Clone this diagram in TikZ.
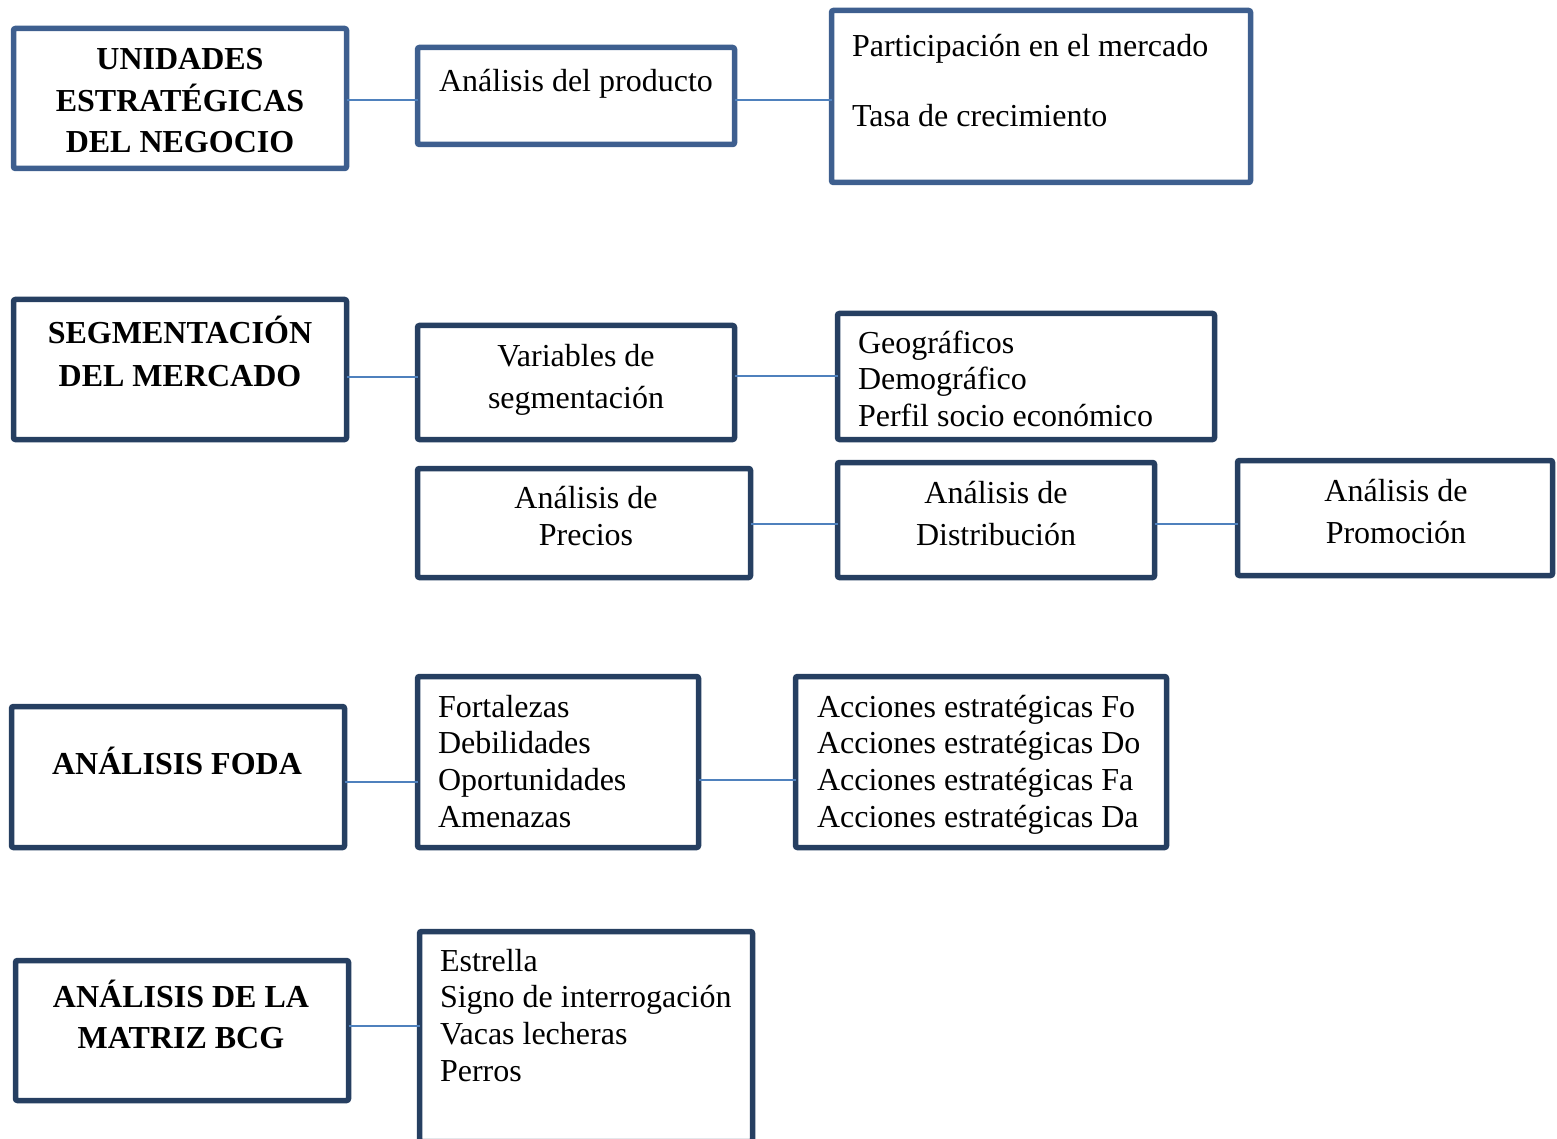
\documentclass[tikz,border=0pt]{standalone}
\usepackage{fontspec}
\setmainfont{Liberation Serif}
\usetikzlibrary{fit,calc}
\definecolor{edgeblue}{HTML}{3E5F8F}
\definecolor{edgenavy}{HTML}{263F61}
\definecolor{linkblue}{HTML}{4F81BD}
\begin{document}
\begin{tikzpicture}[x=1pt,y=-1pt,
  box/.style={draw=edgenavy, line width=5.5pt, rounded corners=2pt, inner sep=0pt, outer sep=0pt},
  boxtop/.style={box, draw=edgeblue},
  link/.style={draw=linkblue, line width=2pt},
  txt/.style={inner sep=0pt, outer sep=0pt, font=\fontsize{32pt}{37pt}\selectfont},
  head/.style={txt, font=\fontsize{32pt}{37pt}\selectfont\bfseries}]
\useasboundingbox (0,0) rectangle (1557,1139);
\clip (0,0) rectangle (1557,1139);

% boxes, row by row
\node[boxtop, fit={(13.5,28.5) (346.5,168.5)}] (A1) {};
\node[boxtop, fit={(417.5,47.5) (734.5,144.5)}] (A2) {};
\node[boxtop, fit={(831.5,10.5) (1250.5,182.5)}] (A3) {};

\node[box, fit={(13.5,299.5) (346.5,439.5)}] (B1) {};
\node[box, fit={(417.5,325.5) (734.5,439.5)}] (B2) {};
\node[box, fit={(837.5,313.5) (1214.5,439.5)}] (B3) {};

\node[box, fit={(417.5,468.5) (750.5,577.5)}] (C1) {};
\node[box, fit={(837.5,462.5) (1154.5,577.5)}] (C2) {};
\node[box, fit={(1237.5,460.5) (1552.5,575.5)}] (C3) {};

\node[box, fit={(11.5,706.5) (344.5,847.5)}] (D1) {};
\node[box, fit={(417.5,676.5) (698.5,847.5)}] (D2) {};
\node[box, fit={(795.5,676.5) (1166.5,847.5)}] (D3) {};

\node[box, fit={(15.5,960.5) (348.5,1100.5)}] (E1) {};
\node[box, fit={(419.5,931.5) (752.5,1141.5)}] (E2) {};

% connectors
\coordinate (a12) at ($(A1.east)+(0,1.5)$);
\coordinate (a23) at ($(A2.east)+(0,4)$);
\coordinate (b12) at ($(B1.east)+(0,7.5)$);
\coordinate (b23) at ($(B2.east)+(0,-6.5)$);
\coordinate (c12) at ($(C1.east)+(0,1)$);
\coordinate (c23) at ($(C2.east)+(0,4)$);
\coordinate (d12) at ($(D1.east)+(0,5)$);
\coordinate (d23) at ($(D2.east)+(0,18)$);
\coordinate (e12) at ($(E1.east)+(0,-4.5)$);
\draw[link] (a12) -- (a12 -| A2.west);
\draw[link] (a23) -- (a23 -| A3.west);
\draw[link] (b12) -- (b12 -| B2.west);
\draw[link] (b23) -- (b23 -| B3.west);
\draw[link] (c12) -- (c12 -| C2.west);
\draw[link] (c23) -- (c23 -| C3.west);
\draw[link] (d12) -- (d12 -| D2.west);
\draw[link] (d23) -- (d23 -| D3.west);
\draw[link] (e12) -- (e12 -| E2.west);

% headings
\node[head, anchor=base] (ta1a) at (180,70) {UNIDADES};
\node[head, anchor=base] (ta1b) at (180,112) {ESTRATÉGICAS};
\node[head, anchor=base] (ta1c) at (180,153) {DEL NEGOCIO};
\node[head, anchor=base] (tb1a) at (180,343) {SEGMENTACIÓN};
\node[head, anchor=base] (tb1b) at (180,386) {DEL MERCADO};
\node[head, anchor=base] (td1) at (177,774) {ANÁLISIS FODA};
\node[head, anchor=base] (te1a) at (181,1007) {ANÁLISIS DE LA};
\node[head, anchor=base] (te1b) at (181,1048) {MATRIZ BCG};

% row 1
\node[txt, anchor=base] (ta2) at (576,92) {Análisis del producto};
\node[txt, anchor=base west] (ta3a) at (852,57) {Participación en el mercado};
\node[txt, anchor=base west] (ta3b) at (852,127) {Tasa de crecimiento};

% row 2
\node[txt, anchor=base] (tb2a) at (576,366) {Variables de};
\node[txt, anchor=base] (tb2b) at (576,408) {segmentación};
\foreach \t [count=\i] in {Geográficos, Demográfico, Perfil socio económico}
  \node[txt, anchor=base west] (tb3-\i) at (858,{353+36.7*(\i-1)}) {\t};

% marketing mix
\node[txt, anchor=base] (tc1a) at (586,508) {Análisis de};
\node[txt, anchor=base] (tc1b) at (586,545) {Precios};
\node[txt, anchor=base] (tc2a) at (996,503) {Análisis de};
\node[txt, anchor=base] (tc2b) at (996,545) {Distribución};
\node[txt, anchor=base] (tc3a) at (1396,501) {Análisis de};
\node[txt, anchor=base] (tc3b) at (1396,543) {Promoción};

% FODA
\foreach \t [count=\i] in {Fortalezas, Debilidades, Oportunidades, Amenazas}
  \node[txt, anchor=base west] (td2-\i) at (438,{717+36.7*(\i-1)}) {\t};
\foreach \t [count=\i] in {Acciones estratégicas Fo, Acciones estratégicas Do,
                           Acciones estratégicas Fa, Acciones estratégicas Da}
  \node[txt, anchor=base west] (td3-\i) at (817,{717+36.7*(\i-1)}) {\t};

% BCG
\foreach \t [count=\i] in {Estrella, Signo de interrogación, Vacas lecheras, Perros}
  \node[txt, anchor=base west] (te2-\i) at (440,{971+36.7*(\i-1)}) {\t};
\end{tikzpicture}
\end{document}
